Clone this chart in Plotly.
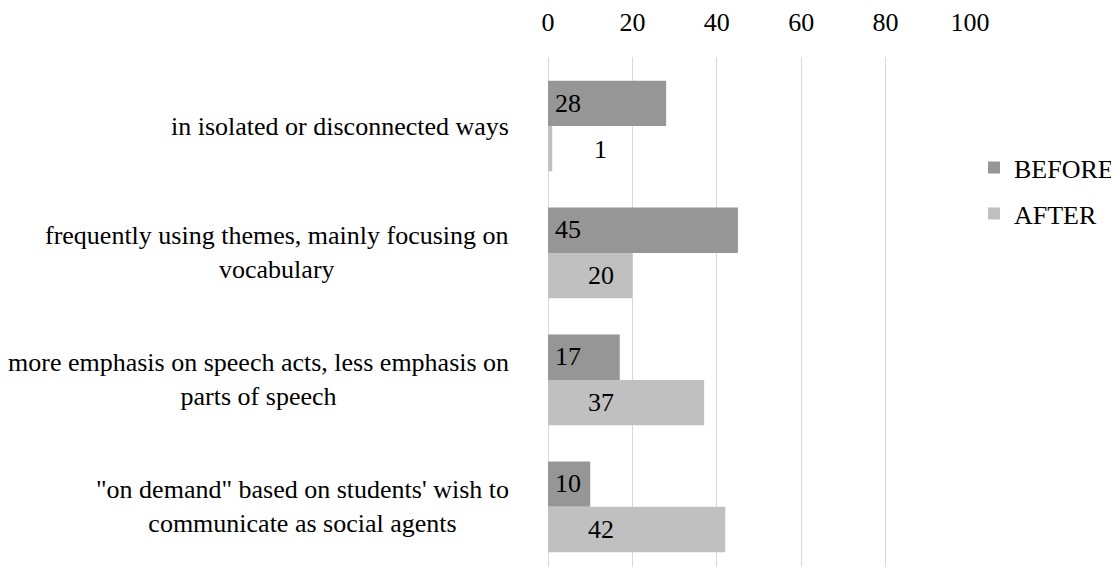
import plotly.graph_objects as go

categories = [
    "in isolated or disconnected ways",
    "frequently using themes, mainly focusing on<br>vocabulary",
    "more emphasis on speech acts, less emphasis on<br>parts of speech",
    "\"on demand\" based on students' wish to<br>communicate as social agents",
]
before = [28, 45, 17, 10]
after = [1, 20, 37, 42]
tick_vals = [0, 20, 40, 60, 80, 100]

FONT = "'Times New Roman', 'Liberation Serif', 'DejaVu Serif', serif"
FS = 26
C_BEFORE = "#969696"
C_AFTER = "#C0C0C0"

ypos = list(range(len(categories)))

fig = go.Figure()
fig.add_trace(go.Bar(y=ypos, x=before, orientation="h", name="BEFORE",
                     marker=dict(color=C_BEFORE, line=dict(width=0)),
                     legendgroup="b", hoverinfo="x+name"))
fig.add_trace(go.Bar(y=ypos, x=after, orientation="h", name="AFTER",
                     marker=dict(color=C_AFTER, line=dict(width=0)),
                     legendgroup="a", hoverinfo="x+name"))

annotations = []
for i, cat in enumerate(categories):
    annotations.append(dict(x=-0.088, xref="paper", y=i, yref="y", text=cat,
                            showarrow=False, xanchor="right", yanchor="middle",
                            align="center", font=dict(family=FONT, size=FS, color="black")))
    annotations.append(dict(x=1.2, xref="x", y=i, yref="y", text=str(before[i]),
                            showarrow=False, xanchor="left", yanchor="middle", yshift=23,
                            font=dict(family=FONT, size=FS, color="black")))
    annotations.append(dict(x=12.5, xref="x", y=i, yref="y", text=str(after[i]),
                            showarrow=False, xanchor="center", yanchor="middle", yshift=-23,
                            font=dict(family=FONT, size=FS, color="black")))

fig.update_layout(
    width=1111, height=559,
    margin=dict(l=540, r=143, t=42, b=0, pad=0),
    paper_bgcolor="white", plot_bgcolor="white",
    barmode="group", bargap=0.285, bargroupgap=0,
    font=dict(family=FONT, size=FS, color="black"),
    showlegend=True,
    legend=dict(x=1.01, xanchor="left", y=0.829,
                yanchor="top",
                traceorder="grouped", tracegroupgap=9,
                font=dict(family=FONT, size=FS, color="black"),
                bgcolor="rgba(0,0,0,0)"),
    annotations=annotations,
    xaxis=dict(range=[0, 100], side="top", tickvals=tick_vals,
               showgrid=True, gridcolor="#D9D9D9", gridwidth=1,
               zeroline=True, zerolinecolor="#D9D9D9", zerolinewidth=1,
               showline=False, ticks="", ticklabelstandoff=20,
               tickfont=dict(family=FONT, size=FS, color="black")),
    yaxis=dict(range=[3.474, -0.544], showticklabels=False, showgrid=False,
               zeroline=False, showline=False, ticks=""),
)

fig.write_html("out.html")
